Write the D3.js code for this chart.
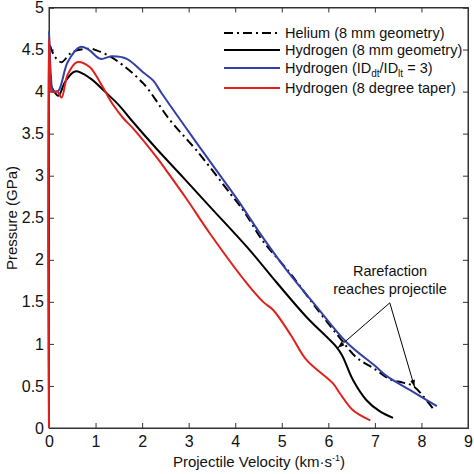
<!DOCTYPE html>
<html><head><meta charset="utf-8">
<script src="https://d3js.org/d3.v7.min.js"></script>
<style>body{margin:0;background:#fff}svg{display:block;font-family:"Liberation Sans",Arial,sans-serif}</style>
</head><body><svg id="c" width="474" height="474"></svg>
<script>
const xTicks=[0,1,2,3,4,5,6,7,8,9];
const yTicks=[0,0.5,1,1.5,2,2.5,3,3.5,4,4.5,5];
const yTickLabels=["0","0.5","1","1.5","2","2.5","3","3.5","4","4.5","5"];
const seriesNames=["Helium (8 mm geometry)","Hydrogen (8 mm geometry)","Hydrogen (ID_dt/ID_lt = 3)","Hydrogen (8 degree taper)"];
const heliumV=[0.02,0.13,0.27,0.45,0.6,0.9,1.02,1.2,1.45,2.02,2.6,3.17,3.89,4.17,4.6,5.18,5.75,6.25,6.6,7.0,7.32,7.6,7.82,8.05,8.29];
const heliumP=[4.55,4.41,4.35,4.45,4.49,4.51,4.49,4.45,4.37,4.1,3.66,3.3,2.79,2.59,2.22,1.84,1.42,1.07,0.84,0.7,0.58,0.54,0.5,0.37,0.2];
const hydV=[0,0,0.03,0.1,0.2,0.35,0.56,0.88,1.2,1.5,1.74,2.31,2.88,3.46,4.32,4.89,5.53,6.18,6.3,6.53,6.82,7.1,7.39];
const hydP=[0,4.6,4.1,4.01,3.95,4.12,4.24,4.16,4.0,3.84,3.68,3.32,2.98,2.63,2.11,1.73,1.32,0.96,0.86,0.57,0.33,0.2,0.12];
const idV=[0,0,0.04,0.09,0.2,0.4,0.67,0.85,1.1,1.35,1.67,2.02,2.24,2.42,3.03,3.6,4.03,4.6,5.1,5.75,6.39,7.0,7.25,7.82,8.33];
const idP=[0,4.72,4.2,4.01,4.01,4.35,4.53,4.5,4.39,4.42,4.39,4.23,4.13,3.98,3.5,3.06,2.73,2.26,1.88,1.44,1.02,0.74,0.62,0.43,0.26];
const taperV=[0,0,0.02,0.05,0.18,0.27,0.4,0.6,0.88,1.0,1.17,1.38,1.6,1.81,2.31,2.6,2.96,3.46,4.25,4.6,4.82,5.2,5.53,6.1,6.25,6.53,6.9];
const taperP=[0,4.62,4.3,4.0,4.0,3.93,4.2,4.35,4.29,4.2,4.04,3.84,3.68,3.56,3.22,3.0,2.72,2.31,1.72,1.5,1.4,1.1,0.81,0.53,0.41,0.21,0.09];
const annotText=["Rarefaction","reaches projectile"];
const annotFrom=[7.32,1.5];
const annotTargets=[[6.2,0.95],[7.85,0.49]];

const svg=d3.select("#c");
const x=d3.scaleLinear().domain([0,9]).range([49,468]);
const y=d3.scaleLinear().domain([0,5]).range([428,7.5]);
const axisCol="#333";
const fsTick=16, fsTitle=15, fsLeg=14.5, fsAnn=14.5;

svg.append("rect").attr("x",49).attr("y",7.5).attr("width",419).attr("height",420.5)
  .attr("fill","none").attr("stroke",axisCol).attr("stroke-width",1);

const gB=svg.append("g").attr("transform","translate(0,428)")
  .call(d3.axisBottom(x).tickValues(xTicks).tickSize(-5).tickPadding(8).tickFormat(d3.format("d")));
const gT=svg.append("g").attr("transform","translate(0,7.5)")
  .call(d3.axisTop(x).tickValues(xTicks).tickSize(-5).tickFormat(""));
const gL=svg.append("g").attr("transform","translate(49,0)")
  .call(d3.axisLeft(y).tickValues(yTicks).tickSize(-5).tickPadding(5).tickFormat((d,i)=>yTickLabels[i]));
const gR=svg.append("g").attr("transform","translate(468,0)")
  .call(d3.axisRight(y).tickValues(yTicks).tickSize(-5).tickFormat(""));
[gB,gT,gL,gR].forEach(g=>{
  g.select(".domain").attr("stroke",axisCol);
  g.selectAll(".tick line").attr("stroke",axisCol);
  g.selectAll(".tick text").attr("fill","#111").attr("font-size",fsTick).attr("font-family","Liberation Sans, Arial, sans-serif");
});

const line=d3.line().x(d=>x(d[0])).y(d=>y(d[1])).curve(d3.curveCatmullRom.alpha(0.5));
function draw(V,P,col,dash){
  svg.append("path").datum(V.map((v,i)=>[v,P[i]])).attr("d",line)
    .attr("fill","none").attr("stroke",col).attr("stroke-width",2)
    .attr("stroke-dasharray",dash||null).attr("stroke-linejoin","round");
}
const colors=["#000","#000","#3340a8","#e0201b"];
const dashes=["9,4,2,4",null,null,null];
draw(hydV,hydP,colors[1],null);
draw(heliumV,heliumP,colors[0],dashes[0]);
draw(idV,idP,colors[2],null);
draw(taperV,taperP,colors[3],null);

const lg=svg.append("g").attr("font-size",fsLeg).attr("font-family","Liberation Sans, Arial, sans-serif");
const rowsY=[33,50,68,88];
seriesNames.forEach((n,i)=>{
  lg.append("line").attr("x1",224).attr("x2",280).attr("y1",rowsY[i]).attr("y2",rowsY[i])
    .attr("stroke",colors[i]).attr("stroke-width",2).attr("stroke-dasharray",dashes[i]);
  const t=lg.append("text").attr("x",285).attr("y",rowsY[i]+5).attr("fill","#111");
  if(i===2){
    t.append("tspan").text("Hydrogen (ID");
    t.append("tspan").attr("font-size",10).attr("dy",4).text("dt");
    t.append("tspan").attr("dy",-4).text("/ID");
    t.append("tspan").attr("font-size",10).attr("dy",4).text("lt");
    t.append("tspan").attr("dy",-4).text(" = 3)");
  } else t.text(n);
});

svg.append("text").attr("x",390).attr("y",276).attr("text-anchor","middle").attr("font-size",fsAnn).attr("fill","#111").text(annotText[0]);
svg.append("text").attr("x",390).attr("y",294).attr("text-anchor","middle").attr("font-size",fsAnn).attr("fill","#111").text(annotText[1]);
const defs=svg.append("defs");
defs.append("marker").attr("id","ah").attr("viewBox","0 0 10 10").attr("refX",10).attr("refY",5)
  .attr("markerWidth",7).attr("markerHeight",7).attr("orient","auto")
  .append("path").attr("d","M0,1.5 L10,5 L0,8.5 z").attr("fill","#000");
annotTargets.forEach(t=>{
  svg.append("line").attr("x1",x(annotFrom[0])).attr("y1",y(annotFrom[1])+1)
    .attr("x2",x(t[0])).attr("y2",y(t[1])).attr("stroke","#000").attr("stroke-width",1)
    .attr("marker-end","url(#ah)");
});

svg.append("text").attr("x",259).attr("y",467).attr("text-anchor","middle").attr("font-size",fsTitle).attr("fill","#111")
  .html('Projectile Velocity (km·s<tspan font-size="9" dy="-6">-1</tspan><tspan dy="6">)</tspan>');
svg.append("text").attr("transform","translate(17,218) rotate(-90)").attr("text-anchor","middle").attr("font-size",fsTitle).attr("fill","#111")
  .text("Pressure (GPa)");
</script></body></html>
